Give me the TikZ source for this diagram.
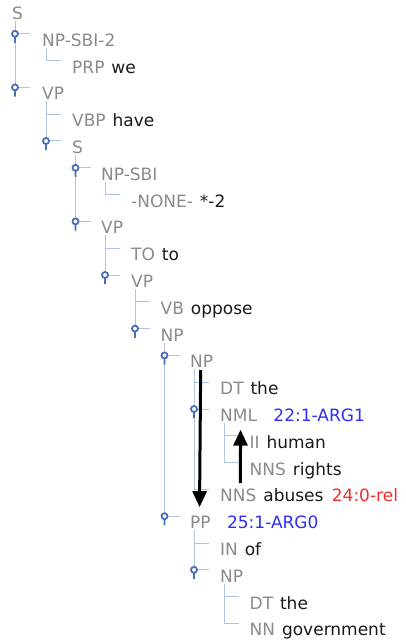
\documentclass[tikz,border=0pt]{standalone}
\usepackage{fontspec}
\setmainfont{DejaVu Sans}
\usepackage{xcolor}
\usepackage{tikz}
\usetikzlibrary{arrows.meta,positioning}
\definecolor{treeline}{HTML}{B0C3E0}
\definecolor{handle}{HTML}{4A6DB5}
\definecolor{taggray}{HTML}{8A8A8A}
\definecolor{argblue}{HTML}{2E2EF5}
\definecolor{relred}{HTML}{F52A2A}

\begin{document}
\begin{tikzpicture}[
x=1pt, y=-1pt,
font=\fontsize{17}{20}\selectfont,
tag/.style={anchor=base west, inner sep=0pt, text=taggray},
word/.style={inner sep=0pt, text=black!90},
argone/.style={inner sep=0pt, text=argblue},
relone/.style={inner sep=0pt, text=relred},
branch/.style={treeline, line width=1pt},
knob/.style={handle, line width=1.8pt, fill=white},
link/.style={line width=3pt, -{Triangle[length=16pt,width=14pt]}}
]
    \useasboundingbox (0,0) rectangle (406,644);

    % Draw tree lines
    \draw[branch] (15,21) -- (15,87.4) (15,33.8) -- (30,33.8) (15,87.4) -- (30,87.4);
    \draw[branch] (46,47.8) |- (61,60.6);
    \draw[branch] (46,101.4) -- (46,141) (46,114.2) -- (61,114.2) (46,141) -- (61,141);
    \draw[branch] (75.5,155) -- (75.5,221.4) (75.5,167.8) -- (90.5,167.8) (75.5,221.4) -- (90.5,221.4);
    \draw[branch] (105,181.8) |- (120,194.6);
    \draw[branch] (105,235.4) -- (105,275) (105,248.2) -- (120,248.2) (105,275) -- (120,275);
    \draw[branch] (135,289) -- (135,328.6) (135,301.8) -- (150,301.8) (135,328.6) -- (150,328.6);
    \draw[branch] (164.5,342.6) -- (164.5,516.2) (164.5,355.4) -- (179.5,355.4) (164.5,516.2) -- (179.5,516.2);
    \draw[branch] (194,369.4) -- (194,489.4) (194,382.2) -- (209,382.2) (194,409) -- (209,409) (194,489.4) -- (209,489.4);
    \draw[branch] (224,423) -- (224,462.6) (224,435.8) -- (239,435.8) (224,462.6) -- (239,462.6);
    \draw[branch] (194,530.2) -- (194,569.8) (194,543) -- (209,543) (194,569.8) -- (209,569.8);
    \draw[branch] (224,583.8) -- (224,623.4) (224,596.6) -- (239,596.6) (224,623.4) -- (239,623.4);

    % Handles of the open nodes
    \draw[knob] (15,33.8) circle (3) (15,36.8) -- (15,43);
    \draw[knob] (15,87.4) circle (3) (15,90.4) -- (15,96.6);
    \draw[knob] (46,141) circle (3) (46,144) -- (46,150.2);
    \draw[knob] (75.5,167.8) circle (3) (75.5,170.8) -- (75.5,177);
    \draw[knob] (75.5,221.4) circle (3) (75.5,224.4) -- (75.5,230.6);
    \draw[knob] (105,275) circle (3) (105,278) -- (105,284.2);
    \draw[knob] (135,328.6) circle (3) (135,331.6) -- (135,337.8);
    \draw[knob] (164.5,355.4) circle (3) (164.5,358.4) -- (164.5,364.6);
    \draw[knob] (194,409) circle (3) (194,412) -- (194,418.2);
    \draw[knob] (164.5,516.2) circle (3) (164.5,519.2) -- (164.5,525.4);
    \draw[knob] (194,569.8) circle (3) (194,572.8) -- (194,579);

    % Labels
    \node[tag] (s0) at (12,19.5) {S};
    \node[tag] (np1) at (42,46.3) {NP-SBI-2};
    \node[tag] (prp2) at (72,73.1) {PRP};
    \node[word, base right=6.5pt of prp2] (we2) {we};
    \node[tag] (vp3) at (42,99.9) {VP};
    \node[tag] (vbp4) at (72,126.7) {VBP};
    \node[word, base right=6.5pt of vbp4] (have4) {have};
    \node[tag] (s5) at (72,153.5) {S};
    \node[tag] (np6) at (101,180.3) {NP-SBI};
    \node[tag] (none7) at (131,207.1) {-NONE-};
    \node[word, base right=6.5pt of none7] (trace7) {*-2};
    \node[tag] (vp8) at (101,233.9) {VP};
    \node[tag] (to9) at (131,260.7) {TO};
    \node[word, base right=6.5pt of to9] (toword9) {to};
    \node[tag] (vp10) at (131,287.5) {VP};
    \node[tag] (vb11) at (160.5,314.3) {VB};
    \node[word, base right=6.5pt of vb11] (oppose11) {oppose};
    \node[tag] (np12) at (160.5,341.1) {NP};
    \node[tag] (np13) at (190,367.9) {NP};
    \node[tag] (dt14) at (220,394.7) {DT};
    \node[word, base right=6.5pt of dt14] (the14) {the};
    \node[tag] (nml15) at (220,421.5) {NML};
    \node[argone, base right=16pt of nml15] (arg15) {22:1-ARG1};
    \node[tag] (jj16) at (249.5,448.3) {II};
    \node[word, base right=6.5pt of jj16] (human16) {human};
    \node[tag] (nns17) at (249.5,475.1) {NNS};
    \node[word, base right=6.5pt of nns17] (rights17) {rights};
    \node[tag] (nns18) at (220,501.9) {NNS};
    \node[word, base right=6.5pt of nns18] (abuses18) {abuses};
    \node[relone, base right=8pt of abuses18] (rel18) {24:0-rel};
    \node[tag] (pp19) at (190,528.7) {PP};
    \node[argone, base right=16pt of pp19] (arg19) {25:1-ARG0};
    \node[tag] (in20) at (220,555.5) {IN};
    \node[word, base right=6.5pt of in20] (of20) {of};
    \node[tag] (np21) at (220,582.3) {NP};
    \node[tag] (dt22) at (249.5,609.1) {DT};
    \node[word, base right=6.5pt of dt22] (the22) {the};
    \node[tag] (nn23) at (249.5,635.9) {NN};
    \node[word, base right=6.5pt of nn23] (gov23) {government};

    % Argument arrows
    \draw[link, shorten <=2pt, shorten >=9pt] ([xshift=-1pt]np13.south) -- ([xshift=-1pt]pp19.north);
    \draw[link, shorten <=6pt, shorten >=8pt] ([xshift=2pt]nns18.north) -- ([xshift=2pt]nml15.south);
\end{tikzpicture}
\end{document}
